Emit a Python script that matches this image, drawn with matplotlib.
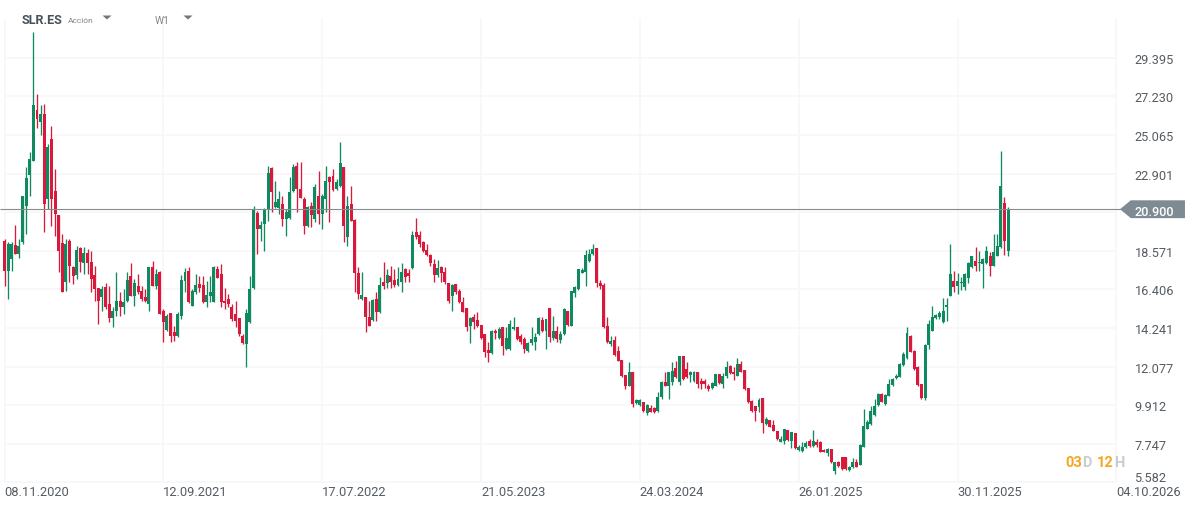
import matplotlib
matplotlib.use("Agg")
import matplotlib.pyplot as plt
import numpy as np

plt.rcParams['font.family'] = ['Roboto', 'DejaVu Sans']

symbol = "SLR.ES"
kind = "Acción"
timeframe = "W1"
last_price = 20.900

opens = [19.13,17.45,18.10,18.89,18.38,19.04,21.10,22.84,23.58,26.48,25.81,26.24,21.47,24.84,21.94,20.59,18.98,16.83,19.13,17.64,
17.21,18.70,17.88,18.44,17.95,17.21,16.46,15.99,16.51,15.58,14.78,15.20,15.77,15.39,15.77,17.13,16.01,16.61,16.33,15.95,
15.58,17.64,16.61,17.36,15.20,14.14,15.07,13.99,13.77,14.92,16.89,17.45,15.49,16.23,16.70,16.65,15.67,16.05,15.71,17.54,
17.26,15.77,15.86,15.39,15.02,14.78,13.80,13.33,14.55,16.46,20.67,19.79,20.07,20.91,23.19,21.00,20.95,21.19,20.35,20.39,
21.94,23.30,22.03,21.47,19.97,21.06,20.35,21.66,20.63,21.47,22.69,22.74,22.03,22.22,
23.25,19.36,21.19,20.31,17.32,15.86,15.96,14.83,14.70,15.86,15.11,16.84,16.76,17.17,16.95,16.65,16.84,17.55,17.32,17.58,
19.60,19.45,19.04,18.63,18.33,17.83,17.21,17.66,17.36,16.74,16.01,16.70,16.33,15.68,15.34,14.33,14.83,14.68,14.40,13.90,
13.02,12.83,14.09,13.66,14.27,13.06,13.06,14.18,14.31,13.77,13.62,12.96,13.39,13.43,13.90,14.70,14.09,15.36,13.66,14.09,
13.58,13.90,15.17,14.37,16.20,16.42,17.32,17.36,18.01,18.39,18.71,16.76,16.65,14.33,13.34,13.58,12.96,12.46,11.60,11.00,
11.75,10.03,9.92,10.07,9.47,9.73,9.73,9.60,10.35,11.23,11.00,
11.19,11.97,11.22,12.64,11.93,11.60,11.28,11.78,11.28,11.28,10.96,10.90,11.00,11.63,11.09,11.52,12.08,11.75,11.52,12.21,
11.90,10.85,10.16,9.84,9.82,10.31,8.85,9.07,8.79,8.47,7.86,7.91,8.53,7.91,8.34,7.41,7.35,7.54,7.91,7.63,
7.87,7.86,7.41,7.22,7.45,6.23,6.75,6.98,6.98,6.29,6.42,6.70,6.57,7.54,8.60,8.85,9.35,9.91,10.53,9.97,
10.44,11.04,11.41,11.50,12.16,12.53,13.80,12.96,12.03,11.09,10.29,13.28,14.08,
14.80,14.83,14.59,15.40,16.05,16.89,16.61,16.76,16.52,17.02,17.64,18.01,17.88,17.83,17.86,18.26,17.73,18.29,18.76,21.25,18.57]

closes = [17.45,18.95,18.95,18.38,18.85,21.62,22.63,23.71,26.74,25.96,26.24,21.19,24.37,21.47,20.63,18.57,16.27,18.95,17.73,17.17,
18.63,17.92,18.44,17.88,16.98,16.42,15.77,16.42,15.39,14.78,15.20,15.77,15.39,15.71,16.94,16.05,16.76,16.23,15.86,15.77,
17.64,16.61,17.26,15.02,14.55,14.92,13.80,13.77,15.02,16.94,17.39,15.67,16.33,16.65,16.46,15.67,16.08,16.23,17.64,17.07,
15.71,15.64,15.58,14.74,14.64,13.90,13.39,15.07,16.42,20.87,19.79,20.01,20.87,22.93,21.88,21.28,21.47,20.35,20.72,21.88,
23.25,22.03,21.53,19.97,21.00,20.57,22.13,20.63,21.66,22.50,22.40,21.99,22.40,23.49,
19.98,21.06,20.26,17.32,16.14,16.09,14.83,14.37,15.83,15.15,16.65,16.61,17.23,16.84,16.65,16.99,17.36,17.08,17.13,19.45,
19.32,18.95,18.57,18.33,17.88,17.21,17.58,17.32,16.80,15.77,16.65,16.24,15.68,15.15,14.27,14.78,14.59,14.33,13.66,12.91,
12.83,14.09,13.96,14.18,13.24,13.66,14.46,14.27,13.62,13.43,13.06,13.39,13.62,13.71,14.78,14.09,14.74,13.71,14.09,13.62,
13.90,15.30,14.40,16.33,16.52,17.55,17.51,18.33,18.39,18.67,16.76,16.57,14.27,13.47,13.53,12.72,12.40,11.52,10.96,11.75,
9.97,10.22,10.22,9.60,9.92,9.54,9.54,10.35,11.23,11.00,11.75,
11.84,11.47,12.64,11.37,11.47,11.78,11.78,11.09,11.09,11.09,10.81,11.15,11.63,11.15,11.52,12.03,11.71,11.65,12.21,11.75,
10.81,10.06,9.58,9.60,10.21,8.90,9.13,8.70,8.47,8.01,8.04,8.57,7.97,8.38,7.48,7.59,7.59,7.78,7.63,7.91,
7.67,7.30,7.30,7.45,6.70,6.70,6.51,6.32,6.32,6.47,6.70,6.45,7.67,8.75,8.98,9.60,9.88,10.53,10.10,10.47,
11.09,11.37,11.56,12.21,12.77,13.95,12.91,11.93,11.04,10.29,13.28,14.46,14.83,
14.98,15.06,15.21,15.53,17.27,16.52,16.89,16.84,17.27,17.86,18.26,17.73,17.96,18.11,18.57,17.70,18.48,18.82,22.18,19.14,20.90]

highs = [19.23,19.04,19.04,20.01,19.23,21.62,23.25,24.09,30.82,27.36,26.74,26.80,24.56,25.58,23.15,20.59,19.51,19.23,19.23,17.73,
18.85,18.76,18.76,18.67,18.57,17.73,16.46,16.61,16.76,16.61,15.39,17.39,16.23,16.42,17.36,17.86,16.98,17.26,16.61,16.42,
17.64,18.01,17.54,17.45,15.30,15.02,15.07,14.36,15.11,17.21,17.58,17.64,16.42,17.26,17.17,17.17,16.89,17.17,17.69,17.73,
17.82,16.46,16.14,15.58,15.77,14.78,13.90,15.30,17.17,21.10,20.82,20.25,20.95,23.34,23.25,22.50,21.94,21.62,20.91,22.69,
23.43,23.53,23.53,21.56,21.10,21.28,22.31,23.06,21.75,23.34,22.78,23.15,22.59,24.65,
23.25,21.66,22.18,20.35,17.64,17.36,15.96,15.77,15.86,16.24,17.08,17.96,17.55,17.70,17.55,17.64,17.86,17.58,17.55,19.70,
20.39,19.70,19.14,18.95,18.39,18.11,18.07,17.73,17.64,16.74,16.70,16.70,16.42,15.96,15.34,14.83,15.02,15.12,14.40,13.90,
13.43,14.12,14.18,14.27,14.27,14.27,14.70,14.83,14.31,13.90,13.71,13.43,14.27,13.96,14.83,14.83,14.74,15.36,14.93,14.37,
14.09,15.36,15.21,16.33,16.61,17.55,17.58,18.63,18.67,18.95,18.71,16.95,16.76,14.83,13.81,13.81,13.24,12.46,11.60,12.31,
11.75,10.25,10.25,10.07,9.97,9.92,9.79,10.63,11.28,11.79,11.79,
12.31,12.40,12.68,12.64,12.34,11.84,11.84,11.78,11.41,11.37,11.09,11.19,11.67,11.63,11.71,12.36,12.16,12.03,12.53,12.40,
11.90,10.85,10.19,9.84,10.29,10.31,9.22,9.09,9.09,8.47,8.16,8.60,8.53,8.42,8.34,7.67,7.86,7.91,8.01,8.53,
8.01,7.91,7.45,7.48,7.45,6.73,6.77,7.01,6.98,6.51,6.92,6.88,7.73,9.69,9.09,9.88,10.25,10.59,10.59,10.53,
11.37,11.41,11.63,12.27,12.87,14.27,13.84,13.02,12.12,11.09,13.32,14.70,15.49,
15.02,15.21,15.90,15.90,18.95,17.45,17.32,17.08,17.32,17.96,18.29,18.76,18.57,18.14,18.86,18.52,19.51,19.51,24.17,21.57,21.01]

lows = [16.61,15.86,17.45,18.38,18.14,18.95,19.51,21.66,23.58,25.43,25.06,19.60,20.91,19.97,19.41,17.39,16.23,16.33,16.79,16.70,
16.98,17.36,17.26,17.26,16.23,15.77,14.46,15.20,15.30,14.55,14.27,14.92,14.92,15.02,15.67,16.05,15.45,16.14,15.77,15.67,
15.20,16.57,16.42,15.02,13.43,14.08,13.43,13.52,13.71,14.74,16.23,15.64,15.45,16.14,16.23,15.64,15.39,15.67,15.67,17.02,
15.39,15.30,15.39,14.64,14.27,13.80,13.33,12.06,14.51,16.42,18.38,19.13,18.57,20.25,20.72,20.95,20.63,19.97,19.38,20.35,
21.88,20.72,21.51,19.51,19.93,19.88,20.16,20.07,19.79,20.72,20.16,21.94,21.99,22.13,
19.04,18.82,20.26,16.24,15.86,15.83,14.03,14.33,14.65,14.65,15.08,16.42,16.46,16.46,16.52,16.57,16.27,16.84,16.84,17.55,
19.23,18.76,18.48,18.29,17.70,16.84,17.08,16.84,16.70,15.64,15.17,16.14,15.64,15.11,14.09,13.39,14.18,14.27,13.62,12.59,
12.35,12.78,13.62,13.62,12.72,13.02,13.02,14.14,13.58,13.34,12.83,12.91,13.28,13.02,13.84,14.03,13.06,13.43,13.58,13.43,
13.39,13.84,14.37,14.33,15.96,16.39,17.32,16.57,17.96,18.33,16.52,16.42,14.24,13.39,13.24,12.65,12.37,11.47,10.81,10.96,
9.79,9.97,9.84,9.51,9.36,9.51,9.47,9.54,10.25,10.96,10.25,
11.04,11.41,11.04,11.33,11.41,11.19,11.19,10.85,10.81,10.90,10.72,10.81,10.96,11.09,10.85,11.41,11.65,11.33,11.52,11.75,
10.77,10.03,9.54,9.03,9.54,8.34,8.79,8.66,8.44,7.97,7.82,7.73,7.91,7.48,7.45,7.35,7.30,7.48,7.59,7.59,
7.59,7.26,7.26,7.07,6.66,6.04,6.47,6.29,6.29,6.23,6.36,6.42,6.55,7.54,8.57,8.79,9.32,9.88,10.06,9.91,
10.40,11.00,11.37,11.47,12.12,12.49,12.87,11.90,10.96,10.25,10.21,13.06,14.07,
14.74,14.74,14.52,14.65,16.01,16.24,16.14,16.39,16.39,16.76,17.58,17.45,17.45,16.46,17.83,17.17,17.70,18.26,18.71,18.33,18.29]

price_ticks = [29.395, 27.230, 25.065, 22.901, 20.736, 18.571, 16.406, 14.241, 12.077, 9.912, 7.747, 5.582]
date_labels = ["08.11.2020", "12.09.2021", "17.07.2022", "21.05.2023", "24.03.2024", "26.01.2025", "30.11.2025", "04.10.2026"]
date_weeks = [0, 44, 88, 132, 176, 220, 264, 308]

UP, DOWN = "#0f8a60", "#d8193c"
GRID, TXT = "#f6f7f8", "#555c62"
TAG = "#7f8b93"

W, H = 1199, 510
fig = plt.figure(figsize=(W / 100, H / 100), dpi=100, facecolor="white")
ax = fig.add_axes([0, 0, 1, 1])
ax.set_xlim(-4.5 / 3.61, (W - 4.5) / 3.61)
ax.set_ylim(32.69 - H / 17.83, 32.69)
ax.axis("off")

def fx(px): return px / W
def fy(py): return 1 - py / H

# grid
for t in price_ticks:
    ax.plot([-0.1, 308], [t, t], color=GRID, lw=1.1, zorder=1, solid_capstyle="butt")
for w in date_weeks:
    ax.plot([w, w], [5.6, 31.6], color=GRID, lw=1.1, zorder=1, solid_capstyle="butt")

# candles
x = np.arange(len(opens))
o, c, hi, lo = map(np.array, (opens, closes, highs, lows))
colors = [UP if b >= a else DOWN for a, b in zip(o, c)]
ax.vlines(x, lo, hi, colors=colors, lw=0.95, zorder=3)
ax.bar(x, np.maximum(np.abs(c - o), 0.08), bottom=np.minimum(o, c), width=0.82, color=colors, lw=0, zorder=4)

# last price line + tag
ax.plot([-1.3, 309.5], [last_price, last_price], color="#848c91", lw=0.8, zorder=5, solid_capstyle="butt")
xs = [309.0, 312.0, 327.0, 327.0, 312.0]
ys = [last_price, last_price + 0.5, last_price + 0.5, last_price - 0.5, last_price - 0.5]
ax.fill(xs, ys, color=TAG, lw=0, zorder=5)
ax.text(fx(1134.5), fy(212), f"{last_price:.3f}", transform=fig.transFigure, color="white",
        fontsize=9.2, fontweight="medium", va="center", ha="left", zorder=6)

# labels
for t in price_ticks:
    if abs(t - 20.736) < 1e-6:
        continue
    py = (32.69 - t) * 17.83 + 1.5
    py = min(py, 478.5)
    ax.text(fx(1134.5), fy(py), f"{t:.3f}", transform=fig.transFigure, color=TXT,
            fontsize=9.2, va="center", ha="left")
for lab, w in zip(date_labels, date_weeks):
    ax.text(fx(4.5 + w * 3.61), fy(492.5), lab, transform=fig.transFigure, color=TXT,
            fontsize=9.3, va="center", ha="left")

# header
fig.text(fx(21.5), fy(21), symbol, color="#48525c", fontsize=9.1, fontweight="bold", va="center", ha="left")
fig.text(fx(68), fy(21), kind, color="#7d858c", fontsize=6, va="center", ha="left")
fig.text(fx(155), fy(21), timeframe, color="#7d858c", fontsize=7.4, va="center", ha="left")
for cx in (107, 188):
    fig.add_artist(plt.Polygon([[fx(cx - 4.5), fy(16.5)], [fx(cx + 4.5), fy(16.5)], [fx(cx), fy(20.5)]],
                               closed=True, color="#6f7880", lw=0, transform=fig.transFigure))

# countdown
parts = [("03", "#f5a623", 1065), ("D", "#c9cdd0", 1082), ("12", "#f5a623", 1097), ("H", "#c5ccd2", 1114)]
for s, col, px in parts:
    fig.text(fx(px), fy(463), s, color=col, fontsize=10.5, fontweight="bold", va="center", ha="left")

fig.savefig("out.png", dpi=100, facecolor="white")
